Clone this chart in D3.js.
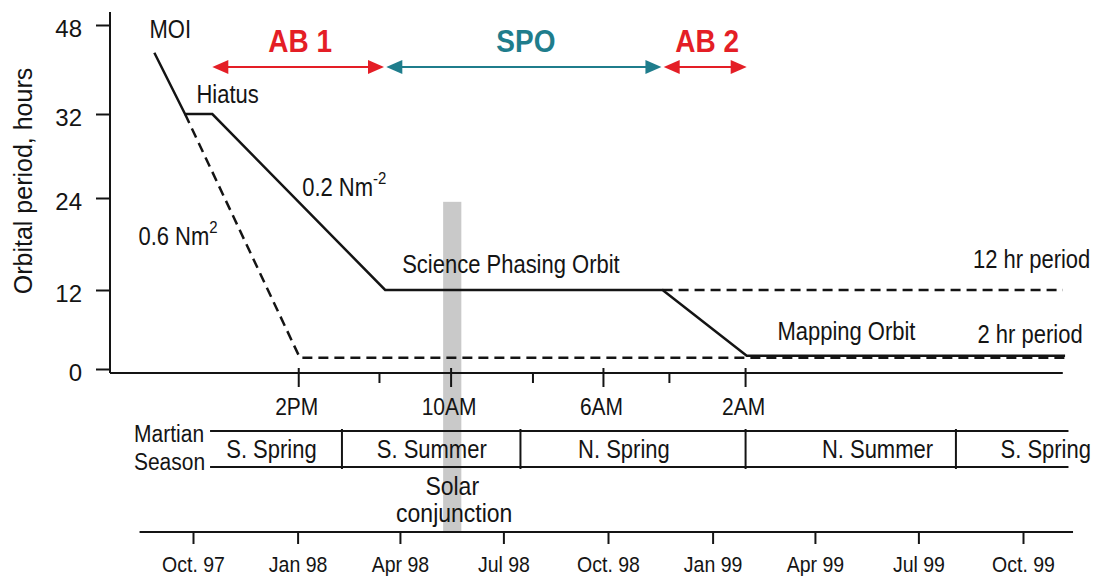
<!DOCTYPE html>
<html><head><meta charset="utf-8">
<script src="https://cdn.jsdelivr.net/npm/d3@7"></script>
<style>
body{margin:0;background:#fff}
svg text{font-family:"Liberation Sans",Arial,Helvetica,sans-serif;fill:#141414}
</style>
</head><body>
<svg id="c" width="1106" height="576"></svg>
<script>
// ---------------- DATA ----------------
const yTickValues = [0, 12, 24, 32, 48];
// Actual aerobraking profile (0.2 N/m^2), solid
const actualPath = [
  ["1997-08-28", 43], ["1997-09-24", 32], ["1997-10-18", 32],
  ["1998-03-19", 12], ["1998-11-18", 12], ["1999-01-31", 2], ["1999-11-07", 2]
];
// Original plan (0.6 N/m^2), dashed
const plannedPath = [["1997-09-24", 32], ["1998-01-03", 1.7], ["1999-11-07", 1.7]];
// 12 hr period continuation, dashed
const twelveHrPath = [["1998-11-18", 12], ["1999-11-05", 12]];
// Mission phases
const phaseLabels = ["AB 1", "SPO", "AB 2"];
const phaseStarts = ["1997-10-18", "1998-03-20", "1998-11-19"];
const phaseEnds = ["1998-03-18", "1998-11-17", "1999-01-31"];
const phaseColors = ["#e41e26", "#1f7d8c", "#e41e26"];
// Local mean solar time ticks
const lmstTicks = ["1998-01-02", "1998-03-14", "1998-05-16", "1998-07-27", "1998-09-27", "1998-11-24", "1999-01-30"];
const lmstLabels = ["2PM", "", "10AM", "", "6AM", "", "2AM"];
// Martian seasons
const seasonBounds = ["1997-10-16", "1998-02-09", "1998-07-16", "1999-01-30", "1999-08-03", "1999-11-10"];
const seasonLabels = ["S. Spring", "S. Summer", "N. Spring", "N. Summer", "S. Spring"];
const seasonLabelDates = ["1997-12-09", "1998-04-29", "1998-10-15", "1999-05-26", "1999-10-21"];
// Calendar axis
const dateTicks = ["1997-10-01", "1998-01-01", "1998-04-01", "1998-07-01", "1998-10-01", "1999-01-01", "1999-04-01", "1999-07-01", "1999-10-01"];
const dateLabels = ["Oct. 97", "Jan 98", "Apr 98", "Jul 98", "Oct. 98", "Jan 99", "Apr 99", "Jul 99", "Oct. 99"];
const dateAxisExtent = ["1997-08-15", "1999-11-14"];
const upperAxisEnd = "1999-11-05";
// Solar conjunction
const conjunction = ["1998-05-09", "1998-05-25"];
const conjunctionTop = 23.5;
// Annotations [text, superscript, date, value, anchor]
const annotations = [
  ["MOI", "", "1997-09-11", 45.7, "middle"],
  ["Hiatus", "", "1997-10-04", 34.0, "start"],
  ["0.2 Nm", "-2", "1998-01-05", 24.2, "start"],
  ["0.6 Nm", "2", "1997-08-14", 17.9, "start"],
  ["Science Phasing Orbit", "", "1998-04-03", 14.2, "start"],
  ["12 hr period", "", "1999-08-18", 14.9, "start"],
  ["Mapping Orbit", "", "1999-02-27", 4.4, "start"],
  ["2 hr period", "", "1999-08-22", 3.95, "start"]
];

// ---------------- LAYOUT ----------------
const parse = d3.timeParse("%Y-%m-%d");
const svg = d3.select("#c");
const ink = "#141414";
const x = d3.scaleTime().domain([parse("1997-10-01"), parse("1999-10-01")]).range([193, 1023]);
const y = d3.scaleLinear().domain(yTickValues).range([369, 290, 198, 114, 25]);
const axisX = 110, axisY = 373;
const tableTop = 431, tableBot = 467;
const dateAxisY = 532;
const arrowY = 67;
const tall = 1.15; // vertical stretch of the condensed-looking lettering
const line = d3.line().x(d => x(parse(d[0]))).y(d => y(d[1]));

function txt(xx, yy, str, size, anchor, sy) {
  return svg.append("text")
    .attr("transform", `translate(${xx},${yy}) scale(1,${sy || tall})`)
    .attr("text-anchor", anchor || "middle").attr("font-size", size).text(str);
}

// conjunction band
svg.append("rect")
  .attr("x", x(parse(conjunction[0])))
  .attr("width", x(parse(conjunction[1])) - x(parse(conjunction[0])))
  .attr("y", y(conjunctionTop))
  .attr("height", dateAxisY - y(conjunctionTop))
  .attr("fill", "#c9c9c9");

// curves
svg.append("path").attr("d", line(plannedPath)).attr("fill", "none")
  .attr("stroke", ink).attr("stroke-width", 2.5).attr("stroke-dasharray", "10,6");
svg.append("path").attr("d", line(twelveHrPath)).attr("fill", "none")
  .attr("stroke", ink).attr("stroke-width", 2.5).attr("stroke-dasharray", "10,6");
svg.append("path").attr("d", line(actualPath)).attr("fill", "none")
  .attr("stroke", ink).attr("stroke-width", 2.5).attr("stroke-linejoin", "miter");

// y axis
const gy = svg.append("g").attr("transform", `translate(${axisX},0)`)
  .call(d3.axisLeft(y).tickValues(yTickValues).tickSize(14).tickPadding(14));
gy.select(".domain").remove();
gy.selectAll("line").attr("stroke", ink).attr("stroke-width", 2);
gy.selectAll("text").attr("font-size", 24).attr("dy", "0.49em").attr("fill", ink)
  .style("font-family", '"Liberation Sans",Arial,sans-serif');
svg.append("line").attr("x1", axisX).attr("x2", axisX).attr("y1", 12).attr("y2", axisY)
  .attr("stroke", ink).attr("stroke-width", 2);
svg.append("text").attr("transform", `translate(32,181) rotate(-90)`)
  .attr("text-anchor", "middle").attr("font-size", 25).text("Orbital period, hours");

// upper x axis (LMST)
svg.append("line").attr("x1", axisX).attr("x2", x(parse(upperAxisEnd)))
  .attr("y1", axisY).attr("y2", axisY).attr("stroke", ink).attr("stroke-width", 2);
lmstTicks.forEach((t, i) => {
  const xx = x(parse(t));
  const major = lmstLabels[i] !== "";
  svg.append("line").attr("x1", xx).attr("x2", xx)
    .attr("y1", major ? axisY - 5 : axisY).attr("y2", axisY + (major ? 14 : 10))
    .attr("stroke", ink).attr("stroke-width", 2);
  if (major) txt(xx - 2, 415, lmstLabels[i], 21, "middle");
});

// season table
const tx0 = x(parse(seasonBounds[0])), tx1 = x(parse(seasonBounds[seasonBounds.length - 1]));
[tableTop, tableBot].forEach(yy => svg.append("line").attr("x1", tx0).attr("x2", tx1)
  .attr("y1", yy).attr("y2", yy).attr("stroke", ink).attr("stroke-width", 2));
seasonBounds.slice(1, -1).forEach(b => {
  const xx = x(parse(b));
  svg.append("line").attr("x1", xx).attr("x2", xx).attr("y1", tableTop - 2).attr("y2", tableBot + 2)
    .attr("stroke", ink).attr("stroke-width", 2);
});
seasonLabels.forEach((s, i) => txt(x(parse(seasonLabelDates[i])), 458, s, 22, "middle"));
txt(tx0 - 6, 442, "Martian", 21, "end");
txt(tx0 - 5, 470, "Season", 21, "end");

// solar conjunction label
const cx = (x(parse(conjunction[0])) + x(parse(conjunction[1]))) / 2;
txt(cx, 495, "Solar", 23, "middle", 1.1);
txt(cx + 2, 522, "conjunction", 23, "middle", 1.1);

// calendar axis
const gx = svg.append("g").attr("transform", `translate(0,${dateAxisY})`)
  .call(d3.axisBottom(x).tickValues(dateTicks.map(parse)).tickFormat((d, i) => dateLabels[i])
    .tickSize(12).tickPadding(13));
gx.select(".domain").remove();
gx.selectAll("line").attr("stroke", ink).attr("stroke-width", 2);
gx.selectAll("text").attr("font-size", 19.5).attr("fill", ink)
  .attr("y", null).attr("dy", null)
  .attr("transform", `translate(0,40) scale(1,1.17)`)
  .style("font-family", '"Liberation Sans",Arial,sans-serif');
svg.append("line").attr("x1", x(parse(dateAxisExtent[0]))).attr("x2", x(parse(dateAxisExtent[1])))
  .attr("y1", dateAxisY).attr("y2", dateAxisY).attr("stroke", ink).attr("stroke-width", 2);

// phase arrows
phaseLabels.forEach((p, i) => {
  const a = x(parse(phaseStarts[i])), b = x(parse(phaseEnds[i])), c = phaseColors[i];
  svg.append("line").attr("x1", a + 10).attr("x2", b - 10).attr("y1", arrowY).attr("y2", arrowY)
    .attr("stroke", c).attr("stroke-width", 2.2);
  svg.append("path").attr("d", `M${a},${arrowY}L${a + 16},${arrowY - 7}L${a + 16},${arrowY + 7}Z`).attr("fill", c);
  svg.append("path").attr("d", `M${b},${arrowY}L${b - 16},${arrowY - 7}L${b - 16},${arrowY + 7}Z`).attr("fill", c);
  txt((a + b) / 2 + 2, 52, p, 28, "middle", 1.1)
    .attr("font-weight", "bold").style("fill", c);
});

// annotations
annotations.forEach(([t, sup, d, v, anchor]) => {
  const el = txt(x(parse(d)), y(v), t, 22, anchor);
  if (sup) el.append("tspan").attr("dy", -10).attr("font-size", 15).text(sup);
});
</script>
</body></html>
